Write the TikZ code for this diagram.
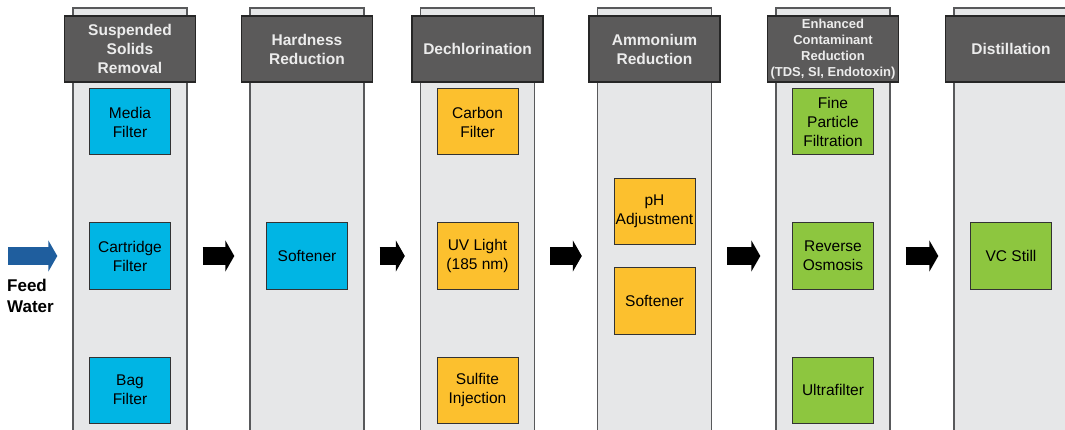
\documentclass[tikz,border=0pt]{standalone}
\usepackage{fontspec}
\setmainfont{Liberation Sans}
\usepackage{xcolor}
\usepackage{tikz}
\usetikzlibrary{arrows.meta, calc}
\definecolor{hdrgray}{HTML}{5B5A5A}
\definecolor{hdrtxt}{HTML}{ECECEC}
\definecolor{colgray}{HTML}{E6E7E8}
\definecolor{colline}{HTML}{58595B}
\definecolor{mblue}{HTML}{00B5E4}
\definecolor{morange}{HTML}{FCC02E}
\definecolor{mgreen}{HTML}{8DC63F}
\definecolor{feedblue}{HTML}{1F5E9E}
\tikzset{
  col/.style ={rectangle, draw=colline, fill=colgray, line width=1.4pt, minimum width=114pt, minimum height=496pt, inner sep=0pt},
  hdr/.style ={rectangle, draw=black!85, fill=hdrgray, text=hdrtxt, line width=1.2pt, minimum width=131pt, minimum height=66pt, align=center, inner sep=0pt, font=\fontsize{15.5}{19}\selectfont\bfseries},
  unit/.style={rectangle, draw=black!80, line width=1pt, minimum width=81pt, minimum height=66pt, align=center, inner sep=0pt, font=\fontsize{15.5}{19}\selectfont},
  blu/.style ={unit, fill=mblue},
  org/.style ={unit, fill=morange},
  grn/.style ={unit, fill=mgreen},
  fl/.style  ={line width=18pt, -{Triangle[length=9pt, width=31pt]}, shorten <=15pt, shorten >=15pt},
}

\begin{document}
\begin{tikzpicture}[x=1pt, y=-1pt]
  \useasboundingbox (0,0) rectangle (1065,430);
  \clip (0,0) rectangle (1065,430);
  % columns
  \node[col] (c1) at (130,256) {};
  \node[col] (c2) at (307,256) {};
  \node[col] (c3) at (477.5,256) {};
  \node[col] (c4) at (654.5,256) {};
  \node[col] (c5) at (833,256) {};
  \node[col] (c6) at (1011,256) {};
  % headers
  \node[hdr] (h1) at (c1 |- 0,49) {Suspended\\Solids\\Removal};
  \node[hdr] (h2) at (c2 |- 0,49) {Hardness\\Reduction};
  \node[hdr] (h3) at (c3 |- 0,49) {Dechlorination};
  \node[hdr] (h4) at (c4 |- 0,49) {Ammonium\\Reduction};
  \node[hdr, font=\fontsize{13}{16}\selectfont\bfseries] (h5) at (c5 |- 0,49) {Enhanced\\Contaminant\\Reduction\\(TDS, SI, Endotoxin)};
  \node[hdr] (h6) at (c6 |- 0,49) {Distillation};
  % treatment units
  \node[blu] (media) at (c1 |- 0,122) {Media\\Filter};
  \node[blu] (cart) at (c1 |- 0,256) {Cartridge\\Filter};
  \node[blu] (bag) at (c1 |- 0,390) {Bag\\Filter};
  \node[blu] (soft1) at (c2 |- 0,256) {Softener};
  \node[org] (carbon) at (c3 |- 0,122) {Carbon\\Filter};
  \node[org] (uv) at (c3 |- 0,256) {UV Light\\(185 nm)};
  \node[org] (sulf) at (c3 |- 0,390) {Sulfite\\Injection};
  \node[org] (ph) at (c4 |- 0,211.5) {pH\\Adjustment};
  \node[org] (soft2) at (c4 |- 0,301) {Softener};
  \node[grn] (fine) at (c5 |- 0,122) {Fine\\Particle\\Filtration};
  \node[grn] (ro) at (c5 |- 0,256) {Reverse\\Osmosis};
  \node[grn] (uf) at (c5 |- 0,390) {Ultrafilter};
  \node[grn] (vc) at (c6 |- 0,256) {VC Still};
  % feed
  \coordinate (feed) at (8,256);
  \node[anchor=west, align=left, inner sep=0pt, font=\fontsize{17}{21}\selectfont\bfseries] (fw) at (7,296) {Feed\\Water};
  \draw[fl, draw=feedblue, shorten <=0pt] (feed) -- (c1.west);
  \draw[fl] (c1.east) -- (c2.west);
  \draw[fl] (c2.east) -- (c3.west);
  \draw[fl] (c3.east) -- (c4.west);
  \draw[fl] (c4.east) -- (c5.west);
  \draw[fl] (c5.east) -- (c6.west);
\end{tikzpicture}
\end{document}
